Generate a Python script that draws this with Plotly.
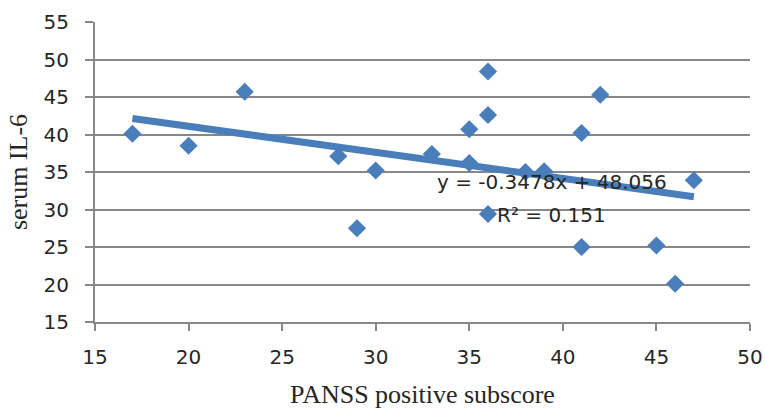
import plotly.graph_objects as go

# Data
panss_positive = [17, 20, 23, 28, 29, 30, 33, 35, 35, 36, 36, 36, 38, 39, 41, 41, 42, 45, 46, 47]
serum_il6 = [40.1, 38.5, 45.7, 37.1, 27.5, 35.2, 37.4, 40.7, 36.2, 48.4, 42.6, 29.4, 35.0, 35.1, 40.2, 25.0, 45.3, 25.2, 20.1, 33.9]

trend_slope = -0.3478
trend_intercept = 48.056
r_squared = 0.151

x_ticks = [15, 20, 25, 30, 35, 40, 45, 50]
y_ticks = [15, 20, 25, 30, 35, 40, 45, 50, 55]

blue = "#4A7EBB"
grid = "#878787"
text_col = "#262626"

x_min, x_max = min(panss_positive), max(panss_positive)
trend_x = [x_min, x_max]
trend_y = [trend_slope * v + trend_intercept for v in trend_x]

fig = go.Figure()
fig.add_trace(go.Scatter(
    x=panss_positive, y=serum_il6, mode="markers",
    marker=dict(symbol="diamond", size=14, color=blue, line=dict(width=0)),
    showlegend=False, hoverinfo="x+y",
))
fig.add_trace(go.Scatter(
    x=trend_x, y=trend_y, mode="lines",
    line=dict(color=blue, width=7),
    showlegend=False, hoverinfo="skip",
))

eq_text = f"y = {trend_slope:.4f}x + {trend_intercept:.3f}"
r2_text = f"R² = {r_squared:.3f}"

fig.add_annotation(x=39.4, y=33.7, xref="x", yref="y", text=eq_text, showarrow=False,
                   font=dict(family="DejaVu Sans", size=20, color=text_col))
fig.add_annotation(x=39.4, y=29.3, xref="x", yref="y", text=r2_text, showarrow=False,
                   font=dict(family="DejaVu Sans", size=20, color=text_col))

fig.update_layout(
    width=765, height=409,
    margin=dict(l=95, r=15, t=22, b=87, autoexpand=False),
    paper_bgcolor="white", plot_bgcolor="white",
    font=dict(family="DejaVu Sans", size=20, color=text_col),
)
fig.update_xaxes(
    automargin=False,
    range=[15, 50], tickvals=x_ticks, ticktext=[str(v) for v in x_ticks],
    showgrid=False, zeroline=False,
    showline=True, linecolor=grid, linewidth=2,
    ticks="outside", ticklen=7, tickwidth=2, tickcolor=grid,
    ticklabelstandoff=9, ticklabeloverflow="allow",
    tickfont=dict(family="DejaVu Sans", size=20, color=text_col),
    title=dict(text="PANSS positive subscore", standoff=20,
               font=dict(family="Liberation Serif", size=26, color=text_col)),
)
fig.update_yaxes(
    automargin=False,
    range=[15, 55], tickvals=y_ticks, ticktext=[str(v) for v in y_ticks],
    showgrid=True, gridcolor=grid, gridwidth=2, zeroline=False,
    showline=True, linecolor=grid, linewidth=2,
    ticks="outside", ticklen=8, tickwidth=2, tickcolor=grid,
    ticklabelstandoff=12, ticklabeloverflow="allow",
    tickfont=dict(family="DejaVu Sans", size=20, color=text_col),
    title=dict(text="serum IL-6", standoff=8,
               font=dict(family="Liberation Serif", size=26, color=text_col)),
)

# remove the default page margin and scrollbars so the figure fills the window exactly
fig.write_html(
    "out.html",
    config={"displayModeBar": False},
    post_script="document.body.style.margin='0';document.body.style.overflow='hidden';",
)
